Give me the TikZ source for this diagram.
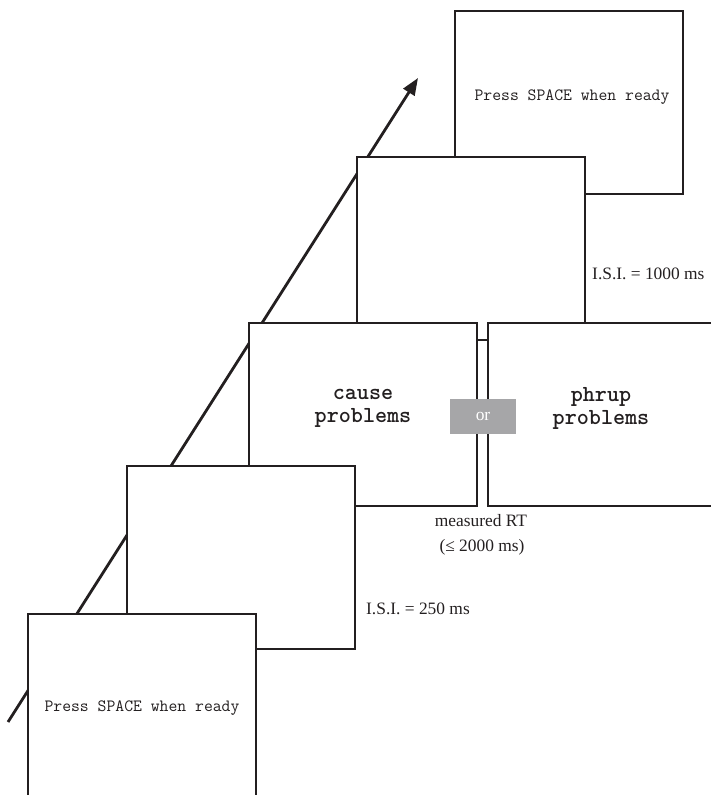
\documentclass[tikz,border=0pt]{standalone}
\usepackage{fontspec}
\setmainfont{Liberation Serif}
\usetikzlibrary{arrows.meta}
\definecolor{ink}{RGB}{35,31,32}
\definecolor{orgrey}{RGB}{166,166,168}
\tikzset{
  screen/.style={draw=ink, line width=2.4bp, fill=white, minimum width=228bp, minimum height=183bp, anchor=north west, inner sep=0pt},
  prompt/.style={inner sep=0pt, font=\ttfamily\fontsize{17.2bp}{20bp}\selectfont, text=ink},
  stim/.style={inner sep=0pt, align=center, font=\ttfamily\bfseries\fontsize{23bp}{23bp}\selectfont, text=ink},
  lab/.style={inner sep=0pt, font=\fontsize{17.4bp}{20bp}\selectfont, text=ink},
}
\begin{document}
\begin{tikzpicture}[x=1bp, y=-1bp]
\useasboundingbox (0,0) rectangle (711,795);
% time arrow (behind the screens)
\coordinate (tstart) at (8,722);
\coordinate (tend) at (418,78);
\draw[ink, line width=2.8bp, -{Triangle[length=17bp,width=13bp]}] (tstart) -- (tend);
% screens, back to front
\node[screen] (s5) at (454,10) {};
\node[screen] (s4) at (356,156) {};
\node[screen] (s3) at (248,322) {};
\node[screen, minimum width=240bp] (s3b) at (487,322) {};
\node[screen] (s2) at (126,465) {};
\node[screen] (s1) at (27,613) {};
% texts in screens
\node[prompt] (t5) at (572,97) {Press SPACE when ready};
\node[prompt] (t1) at (142,708) {Press SPACE when ready};
\node[stim] (t3) at (363,408) {cause\\problems};
\node[stim] (t3b) at (601,408) {phrup\\problems};
% or box
\node[fill=orgrey, minimum width=66bp, minimum height=35bp, inner sep=0pt, text=white, font=\fontsize{17.4bp}{20bp}\selectfont] (or) at (483,416.5) {or};
% labels
\node[lab, anchor=west] (isi1) at (592,274) {I.S.I. = 1000 ms};
\node[lab, anchor=west] (isi2) at (366,609) {I.S.I. = 250 ms};
\node[lab] (rt1) at (481,521) {measured RT};
\node[lab] (rt2) at (482,547) {(≤ 2000 ms)};
\end{tikzpicture}
\end{document}
